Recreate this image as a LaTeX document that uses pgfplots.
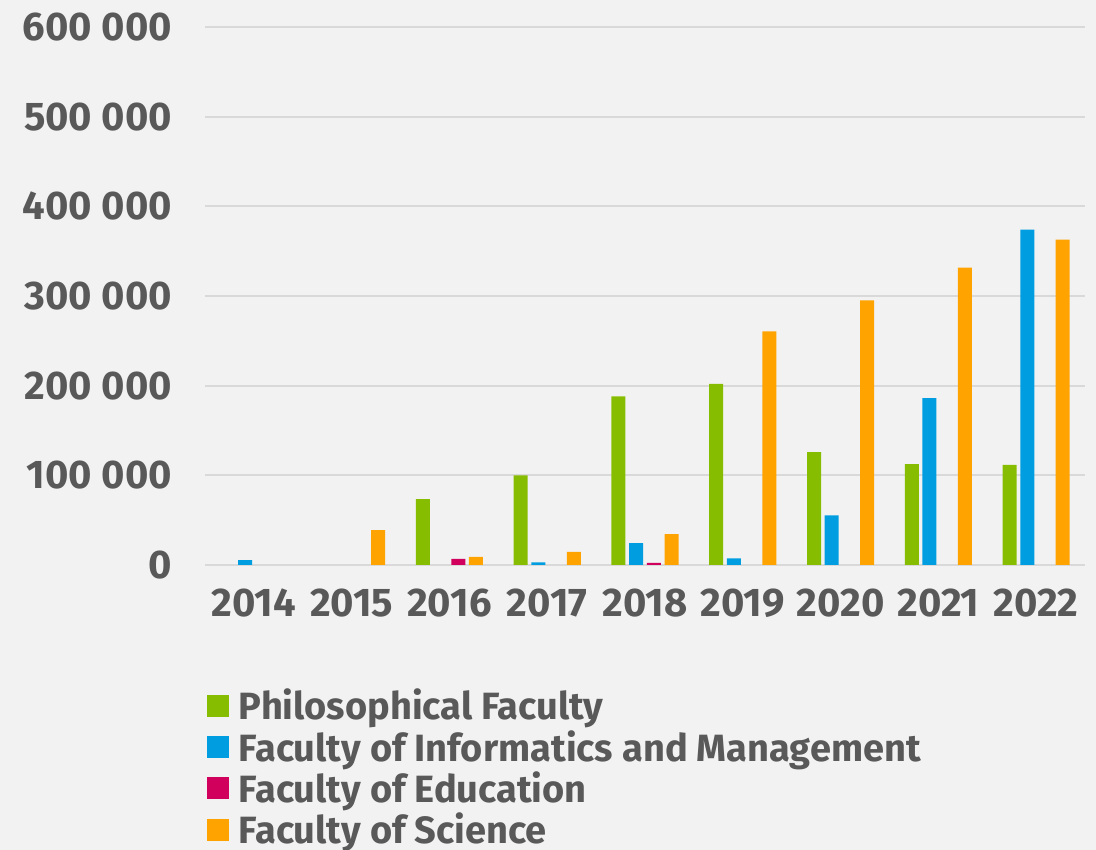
\documentclass[border=0pt]{standalone}
\usepackage{fontspec}
\setmainfont{Fira Sans}
\usepackage{pgfplots}
\pgfplotsset{compat=1.18}
\definecolor{bgc}{HTML}{F2F2F2}
\definecolor{txt}{HTML}{595959}
\definecolor{gridc}{HTML}{D9D9D9}
\definecolor{cgreen}{HTML}{87BD00}
\definecolor{cblue}{HTML}{009EE0}
\definecolor{cmag}{HTML}{D0005C}
\definecolor{corange}{HTML}{FFA300}
\begin{document}
\begin{tikzpicture}
\fill[bgc] (0pt,0pt) rectangle (548pt,425pt);
\useasboundingbox (0pt,0pt) rectangle (548pt,425pt);
\begin{axis}[
  at={(102.5pt,142.5pt)}, anchor=south west,
  scale only axis, width=440pt, height=269pt,
  xmin=-0.5, xmax=8.5, ymin=0, ymax=600000,
  scaled y ticks=false,
  axis line style={draw=none},
  ybar=1.85pt, bar width=7pt,
  ymajorgrids, grid style={gridc, line width=1pt},
  xtick={0,...,8},
  xticklabels={2014,2015,2016,2017,2018,2019,2020,2021,2022},
  ytick={0,100000,200000,300000,400000,500000,600000},
  yticklabels={0,100 000,200 000,300 000,400 000,500 000,600 000},
  major tick length=0pt,
  tick label style={font=\fontsize{20}{24}\selectfont\bfseries, text=txt},
  yticklabel style={anchor=east, xshift=-13pt},
  xticklabel style={anchor=north, yshift=-8.5pt},
  legend style={at={(-0.005,-0.215)}, anchor=north west, draw=none, fill=none,
    font=\fontsize{19}{23}\selectfont\bfseries, text=txt, row sep=-0.3pt,
    nodes={inner xsep=5pt, inner ysep=2pt}},
  legend cell align=left,
  legend image code/.code={\fill[#1] (0pt,-5.5pt) rectangle (11pt,5.5pt);},
  clip=false,
]
\addplot[fill=cgreen, draw=none] coordinates {(2,73500) (3,100000) (4,188000) (5,202000) (6,125800) (7,112400) (8,111600)};
\addplot[fill=cblue, draw=none] coordinates {(0,5500) (3,3000) (4,24500) (5,7500) (6,55300) (7,186200) (8,374000)};
\addplot[fill=cmag, draw=none] coordinates {(2,6700) (4,2500)};
\addplot[fill=corange, draw=none] coordinates {(1,39000) (2,9000) (3,14500) (4,34500) (5,260500) (6,295000) (7,331700) (8,363000)};
\legend{Philosophical Faculty, Faculty of Informatics and Management, Faculty of Education, Faculty of Science}
\end{axis}
\end{tikzpicture}
\end{document}
